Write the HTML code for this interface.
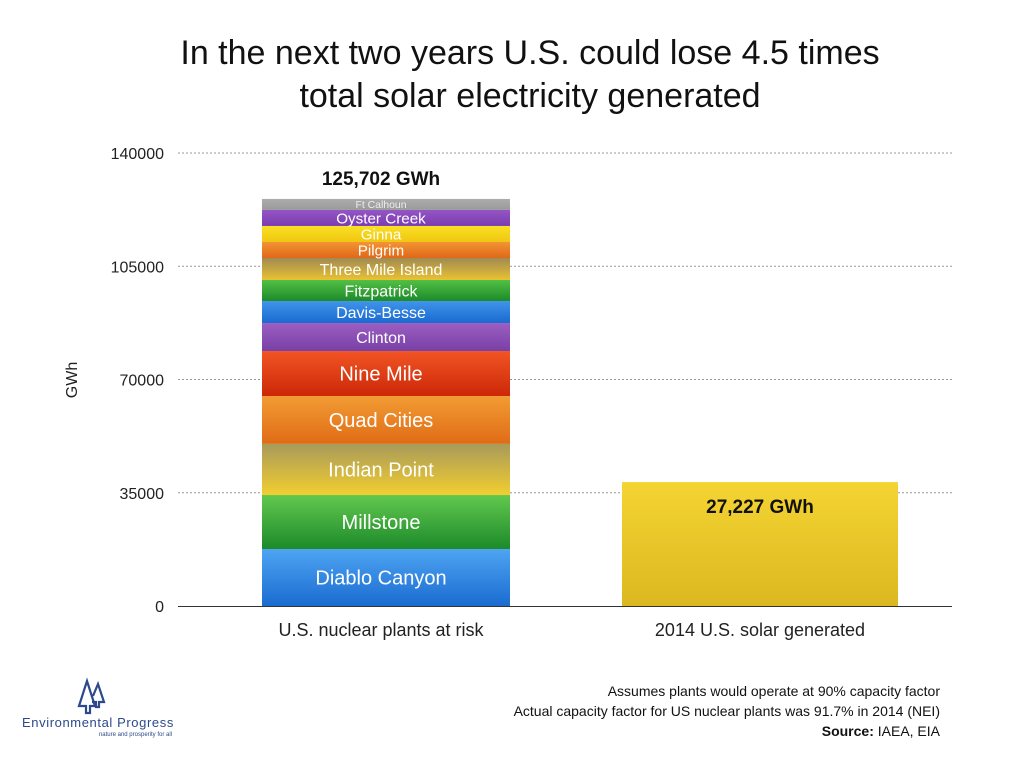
<!DOCTYPE html>
<html><head><meta charset="utf-8"><style>
body{margin:0;background:#fff;font-family:"Liberation Sans",sans-serif;}
#wrap{position:relative;width:1024px;height:768px;overflow:hidden;}
</style></head><body>
<div id="wrap">
<svg id="chart" width="1024" height="768" xmlns="http://www.w3.org/2000/svg">
<defs id="defs"></defs>
<text x="530" y="64" text-anchor="middle" font-size="34" fill="#111">In the next two years U.S. could lose 4.5 times</text>
<text x="530" y="107" text-anchor="middle" font-size="34" fill="#111">total solar electricity generated</text>
<text transform="translate(77,380) rotate(-90)" text-anchor="middle" font-size="16" fill="#222">GWh</text>
<g id="grid"></g><g id="bars"></g>
<g fill="none" stroke="#2c4a8a" stroke-width="2.2" stroke-linejoin="miter">
<path d="M79,706 L87,681 L95,706 L90,706 L90,713 L86,713 L86,706 Z"/>
<path d="M93,696 L98,684 L104,702 L99,702 L99,707 L96,707 L96,702 L92,702"/>
</g>
<text x="22" y="727" font-size="13" letter-spacing="0.6" fill="#2c4a8a">Environmental Progress</text>
<text x="172" y="736" text-anchor="end" font-size="6" fill="#2c4a8a">nature and prosperity for all</text>
<text x="940" y="696" text-anchor="end" font-size="14" fill="#111">Assumes plants would operate at 90% capacity factor</text>
<text x="940" y="716" text-anchor="end" font-size="14" fill="#111">Actual capacity factor for US nuclear plants was 91.7% in 2014 (NEI)</text>
<text x="940" y="736" text-anchor="end" font-size="14" fill="#111"><tspan font-weight="bold">Source:</tspan> IAEA, EIA</text>
</svg>
</div>
<script>
const yTicks=[0,35000,70000,105000,140000];
const plants=["Diablo Canyon","Millstone","Indian Point","Quad Cities","Nine Mile","Clinton","Davis-Besse","Fitzpatrick","Three Mile Island","Pilgrim","Ginna","Oyster Creek","Ft Calhoun"];
const plantValues=[17600,16700,15800,14800,13900,8650,6800,6500,6800,4950,4950,4950,3400];
const solarValue=38300;
const categories=["U.S. nuclear plants at risk","2014 U.S. solar generated"];
const totalLabel="125,702 GWh";
const solarLabel="27,227 GWh";
const colors=[["#4ea4f2","#1a6cd0"],["#62c84e","#1c8a2a"],["#a89a5a","#f2ce30"],["#f29c34","#e06c16"],["#f25424","#cc2808"],["#9c5ec2","#7840a6"],["#4094ea","#1a6ad0"],["#52c044","#1c8a2a"],["#a08a52","#eac232"],["#f29434","#e06818"],["#fae026","#f0c610"],["#9456c4","#7a3cb0"],["#acacac","#9a9a9a"]];
const NS="http://www.w3.org/2000/svg";
const y0=606,y1=153,vmax=140000;
function y(v){return y0-(y0-y1)*v/vmax;}
const grid=document.getElementById('grid'),bars=document.getElementById('bars'),defs=document.getElementById('defs');
function mk(t,a,p){const e=document.createElementNS(NS,t);for(const k in a)e.setAttribute(k,a[k]);(p||bars).appendChild(e);return e;}
yTicks.forEach((t,i)=>{
 if(t>0){const l=mk('line',{x1:178,x2:952,y1:y(t),y2:y(t),stroke:'#999','stroke-dasharray':'2,2'},grid);
 
 }
 const tx=mk('text',{x:164,y:y(t)+6,'text-anchor':'end','font-size':16,fill:'#222'},grid);tx.textContent=String(t);
 
 
});
const ax=mk('line',{x1:178,x2:952,y1:y0+0.5,y2:y0+0.5,stroke:'#333','stroke-width':1},grid);


function grad(id,c){const g=mk('linearGradient',{id:id,x1:0,y1:0,x2:0,y2:1},defs);mk('stop',{offset:0,'stop-color':c[0]},g);mk('stop',{offset:1,'stop-color':c[1]},g);}
let cum=0;
plants.forEach((p,i)=>{
 const v=plantValues[i];const top=y(cum+v),bot=y(cum);cum+=v;
 grad('g'+i,colors[i]);
 const r=mk('rect',{x:262,y:top,width:248,height:bot-top,fill:'url(#g'+i+')'});
 
 
 const h=bot-top;const fs=h>40?20:Math.min(16,Math.max(10,h*0.95));
 const t=mk('text',{x:381,y:(top+bot)/2+fs*0.36,'text-anchor':'middle','font-size':fs,fill:i==12?'#eee':'#fff'});t.textContent=p;
 
 
});
const tl=mk('text',{x:381,y:y(cum)-14,'text-anchor':'middle','font-size':19,'font-weight':'bold',fill:'#111'});tl.textContent=totalLabel;


grad('gs',["#f4d432","#dcb820"]);
const sb=mk('rect',{x:622,y:y(solarValue),width:276,height:y0-y(solarValue),fill:'url(#gs)'});


const sl=mk('text',{x:760,y:y(solarValue)+31,'text-anchor':'middle','font-size':19,'font-weight':'bold',fill:'#111'});sl.textContent=solarLabel;


[381,760].forEach((cx,i)=>{const t=mk('text',{x:cx,y:636,'text-anchor':'middle','font-size':18,fill:'#222'});t.textContent=categories[i];
 
 });
</script>
</body></html>
